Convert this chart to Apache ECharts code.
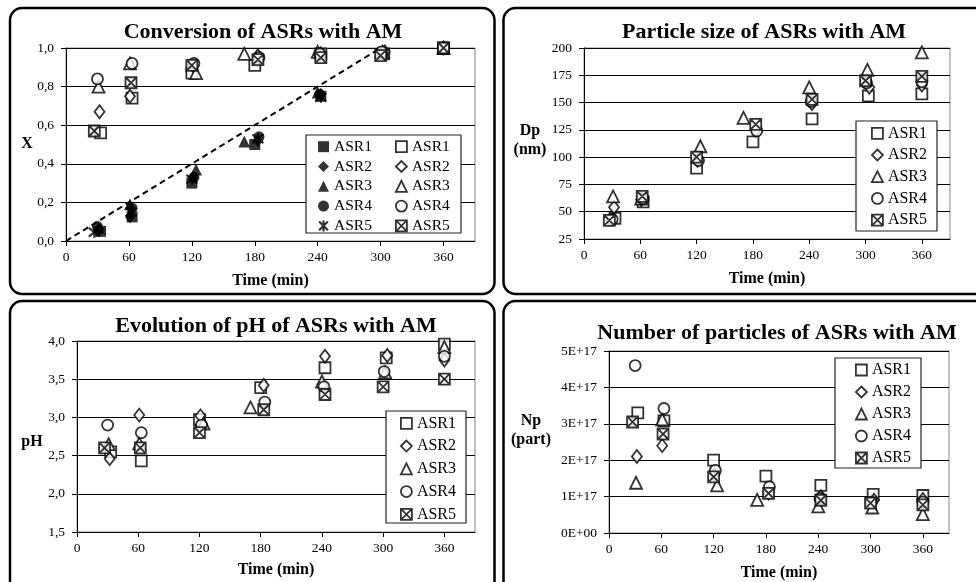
<!DOCTYPE html>
<html><head><meta charset="utf-8">
<script src="https://cdn.jsdelivr.net/npm/echarts@6/dist/echarts.min.js"></script>
<style>html,body{margin:0;padding:0;background:#fff}#c{width:976px;height:582px}</style>
</head><body><div id="c"></div>
<script>
// ---------- DATA ----------
const seriesNames = ['ASR1', 'ASR2', 'ASR3', 'ASR4', 'ASR5'];
const xTickLabels = [0, 60, 120, 180, 240, 300, 360];
// sampling times (min) per reactor
const times = [
  [33, 63, 120, 180, 243, 303, 360],
  [32, 61, 121, 183, 243, 304, 360],
  [31, 61, 124, 170, 240, 302, 360],
  [30, 63, 122, 184, 242, 301, 360],
  [27, 62, 120, 183, 243, 300, 360]
];
// Conversion X - filled markers (follow the feed line)
const convFilled = [
  [0.05, 0.125, 0.30, 0.50, 0.75, 0.97, 1.0],
  [0.06, 0.125, 0.33, 0.52, 0.76, 0.98, 1.0],
  [0.07, 0.19, 0.37, 0.515, 0.77, 0.98, 1.0],
  [0.075, 0.17, 0.33, 0.54, 0.76, 0.98, 1.0],
  [0.045, 0.15, 0.32, 0.53, 0.745, 0.97, 1.0]
];
// Conversion X - open markers
const convOpen = [
  [0.56, 0.74, 0.87, 0.91, 0.97, 0.97, 1.0],
  [0.67, 0.75, 0.91, 0.96, 0.97, 0.98, 1.0],
  [0.80, 0.92, 0.87, 0.97, 0.98, 0.98, 1.0],
  [0.84, 0.92, 0.92, 0.95, 0.97, 0.98, 1.0],
  [0.57, 0.82, 0.91, 0.94, 0.95, 0.96, 1.0]
];
// dashed feed line
const feedLineTime = [0, 300];
const feedLineX = [0, 1.0];
// Particle size Dp (nm)
const particleSize = [
  [44, 59, 90, 114, 135, 156, 158],
  [54, 61, 97, 125, 149, 164, 166],
  [64, 62, 110, 136, 164, 180, 196],
  [43, 62, 97, 124, 151, 168, 169],
  [42, 64, 100, 130, 153, 170, 174]
];
// pH
const phValues = [
  [2.55, 2.43, 2.97, 3.39, 3.65, 3.78, 3.96],
  [2.46, 3.03, 3.02, 3.42, 3.80, 3.81, 3.75],
  [2.65, 2.66, 2.92, 3.13, 3.47, 3.59, 3.92],
  [2.90, 2.80, 2.90, 3.20, 3.40, 3.60, 3.80],
  [2.60, 2.60, 2.80, 3.10, 3.30, 3.40, 3.50]
];
// Number of particles Np (part)
const particleNumber = [
  [3.30e17, 3.08e17, 2.00e17, 1.56e17, 1.31e17, 1.06e17, 1.03e17],
  [2.10e17, 2.40e17, 1.60e17, 1.10e17, 1.00e17, 0.90e17, 0.92e17],
  [1.38e17, 3.12e17, 1.31e17, 0.91e17, 0.73e17, 0.70e17, 0.52e17],
  [4.60e17, 3.42e17, 1.72e17, 1.27e17, 0.95e17, 0.85e17, 0.85e17],
  [3.05e17, 2.72e17, 1.54e17, 1.09e17, 0.90e17, 0.82e17, 0.77e17]
];

// ---------- STYLE ----------
const FONT = '"Liberation Serif", "Times New Roman", serif';
const XBOX = 'path://M1,1L19,1L19,19L1,19Z M1,1L19,19 M19,1L1,19';
const STAR = 'path://M2,2L18,18 M18,2L2,18 M10,0L10,20';
const openSymbols = ['rect', 'diamond', 'triangle', 'circle', XBOX];
const filledSymbols = ['rect', 'diamond', 'triangle', 'circle', STAR];
const symSizes = [11, [10, 13], 12, 11, 11];
const openStyle = {color: '#fff', borderColor: '#000', borderWidth: 1.8};
const filledStyle = i => i === 4 ? {color: '#000', borderColor: '#000', borderWidth: 2.2} : {color: '#000', borderWidth: 0};

const pts = (t, v) => t.map((x, i) => [x, v[i]]);
const series = [];
function addScatter(panel, tag, values, filled) {
  values.forEach((vals, i) => {
    series.push({
      type: 'scatter', name: tag + '|' + seriesNames[i],
      xAxisIndex: panel, yAxisIndex: panel,
      symbol: filled ? filledSymbols[i] : openSymbols[i],
      symbolSize: symSizes[i],
      itemStyle: filled ? filledStyle(i) : openStyle,
      data: pts(times[i], vals), z: 3, animation: false
    });
  });
}
series.push({
  type: 'line', name: 'feed', xAxisIndex: 0, yAxisIndex: 0,
  data: pts(feedLineTime, feedLineX), symbol: 'none',
  lineStyle: {color: '#000', width: 2, type: [6, 4]}, z: 2, animation: false
});
addScatter(0, 'xf', convFilled, true);
addScatter(0, 'xo', convOpen, false);
addScatter(1, 'dp', particleSize, false);
addScatter(2, 'ph', phValues, false);
addScatter(3, 'np', particleNumber, false);

const grids = [
  {left: 66, top: 48, width: 409, height: 193},
  {left: 584, top: 48, width: 366, height: 191},
  {left: 77, top: 341, width: 398, height: 191},
  {left: 609, top: 351, width: 340, height: 184}
].map(g => Object.assign(g, {show: true, borderColor: '#888', borderWidth: 1, backgroundColor: 'transparent'}));

const xAxes = grids.map((g, k) => ({
  type: 'value', gridIndex: k, min: 0, max: 390, interval: 60,
  name: 'Time (min)', nameLocation: 'middle', nameGap: k === 2 ? 30 : 32,
  nameTextStyle: {fontFamily: FONT, fontWeight: 'bold', fontSize: 16, color: '#000'},
  axisLine: {show: true, lineStyle: {color: '#000', width: 1}},
  axisTick: {show: true, length: 5, lineStyle: {color: '#000'}, customValues: xTickLabels},
  axisLabel: {fontFamily: FONT, fontSize: 13.5, color: '#000', margin: 9, customValues: xTickLabels,
    formatter: v => xTickLabels.includes(v) ? String(v) : ''},
  splitLine: {show: false}
}));
const comma = d => v => v.toFixed(d).replace('.', ',');
const yDefs = [
  {min: 0, max: 1, interval: 0.2, fmt: comma(1)},
  {min: 25, max: 200, interval: 25, fmt: v => String(v)},
  {min: 1.5, max: 4, interval: 0.5, fmt: comma(1)},
  {min: 0, max: 5e17, interval: 1e17, fmt: v => v === 0 ? '0E+00' : Math.round(v / 1e17) + 'E+17'}
];
const yAxes = yDefs.map((d, k) => ({
  type: 'value', gridIndex: k, min: d.min, max: d.max, interval: d.interval,
  axisLine: {show: true, lineStyle: {color: '#000', width: 1}},
  axisTick: {show: true, length: 5, lineStyle: {color: '#000'}},
  axisLabel: {fontFamily: FONT, fontSize: 13.5, color: '#000', margin: 12, formatter: d.fmt},
  splitLine: {show: true, lineStyle: {color: '#000', width: 1}}
}));

const titles = [
  {text: 'Conversion of ASRs with AM', left: 263, top: 21},
  {text: 'Particle size of ASRs with AM', left: 764, top: 21},
  {text: 'Evolution of pH of ASRs with AM', left: 276, top: 315},
  {text: 'Number of particles of ASRs with AM', left: 777, top: 322}
].map(t => Object.assign(t, {textAlign: 'center', padding: 0,
  textStyle: {fontFamily: FONT, fontWeight: 'bold', fontSize: 22, color: '#000'}}));

function makeLegend(tag, filled, left, top, gap, fontSize) {
  return {
    orient: 'vertical', left: left, top: top, padding: 0, z: 20,
    itemWidth: 11, itemHeight: 11, itemGap: gap,
    textStyle: {fontFamily: FONT, fontSize: fontSize, color: '#000', lineHeight: 18},
    formatter: n => n.split('|')[1],
    selectedMode: false,
    data: seriesNames.map((s, i) => ({
      name: tag + '|' + s,
      icon: filled ? filledSymbols[i] : openSymbols[i],
      itemStyle: filled ? filledStyle(i) : openStyle
    }))
  };
}
const legends = [
  makeLegend('xf', true, 318, 137.7, 1.8, 15.5),
  makeLegend('xo', false, 395, 137.7, 1.8, 15.5),
  makeLegend('dp', false, 871, 124.3, 3.7, 16),
  makeLegend('ph', false, 400, 414.3, 4.75, 16),
  makeLegend('np', false, 855, 361, 4, 16)
];

const panel = (x, y, w, h) => ({type: 'rect', z: 1, shape: {x, y, width: w, height: h, r: 12},
  style: {fill: 'none', stroke: '#000', lineWidth: 2.5}});
const box = (x, y, w, h) => ({type: 'rect', z: 15, shape: {x, y, width: w, height: h},
  style: {fill: '#fff', stroke: '#222', lineWidth: 1.2}});
const label = (text, x, y) => ({type: 'text', z: 5, x, y,
  style: {text, fill: '#000', font: 'bold 16px ' + FONT, align: 'center', verticalAlign: 'middle',
    textAlign: 'center', textVerticalAlign: 'middle', lineHeight: 19}});

const graphic = [
  panel(10, 8, 484.5, 286), panel(503.5, 8, 490, 286),
  panel(10, 301, 484.5, 300), panel(503.5, 301, 490, 300),
  box(306, 135, 155, 98), box(856, 121, 81, 110), box(386, 411, 80, 112), box(835, 358, 86, 110),
  label('X', 27, 144), label('Dp\n(nm)', 530, 140), label('pH', 32, 442), label('Np\n(part)', 531, 430)
];

const chart = echarts.init(document.getElementById('c'), null, {renderer: 'canvas'});
chart.setOption({
  animation: false, backgroundColor: '#fff',
  title: titles, grid: grids, xAxis: xAxes, yAxis: yAxes,
  legend: legends, graphic: graphic, series: series
});
</script></body></html>
